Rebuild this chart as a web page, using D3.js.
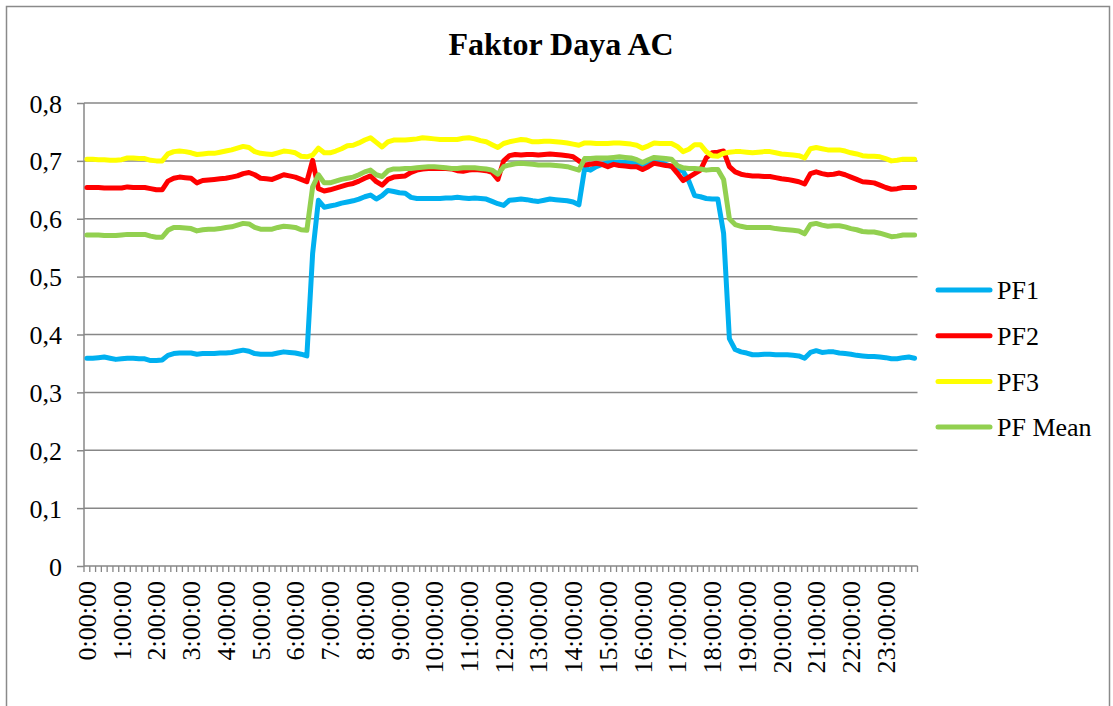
<!DOCTYPE html>
<html>
<head>
<meta charset="utf-8">
<script src="https://cdn.jsdelivr.net/npm/d3@7"></script>
<style>
    body { margin: 0; background: #fff; }
    svg text { font-family: "Liberation Serif", "Times New Roman", serif; fill: #000; }
</style>
</head>
<body>
<div id="chart"></div>
<script>
// 10-minute samples over one day
var times = d3.range(0, 144).map(function (i) {
    var h = Math.floor(i / 6), m = (i % 6) * 10;
    return h + ':' + (m < 10 ? '0' + m : m) + ':00';
});

var yTicks = [0, 0.1, 0.2, 0.3, 0.4, 0.5, 0.6, 0.7, 0.8];

var pf1 = [
    0.359, 0.359, 0.360, 0.361, 0.359, 0.357, 0.358, 0.359, 0.359, 0.358, 0.358, 0.355,
    0.355, 0.356, 0.364, 0.367, 0.368, 0.368, 0.368, 0.366, 0.367, 0.367, 0.367, 0.368,
    0.368, 0.369, 0.371, 0.373, 0.371, 0.367, 0.366, 0.366, 0.366, 0.368, 0.370, 0.369,
    0.368, 0.366, 0.363, 0.540, 0.632, 0.620, 0.622, 0.624, 0.627, 0.629, 0.631, 0.634,
    0.638, 0.641, 0.634, 0.640, 0.649, 0.647, 0.645, 0.644, 0.637, 0.635, 0.635, 0.635,
    0.635, 0.635, 0.636, 0.636, 0.637, 0.636, 0.635, 0.636, 0.635, 0.634, 0.630, 0.626,
    0.623, 0.632, 0.633, 0.634, 0.633, 0.631, 0.630, 0.632, 0.634, 0.633, 0.632, 0.631,
    0.629, 0.624, 0.687, 0.684, 0.690, 0.694, 0.697, 0.697, 0.698, 0.697, 0.696, 0.695,
    0.692, 0.694, 0.698, 0.697, 0.694, 0.690, 0.686, 0.682, 0.665, 0.640, 0.638, 0.635,
    0.634, 0.634, 0.575, 0.393, 0.374, 0.370, 0.368, 0.365, 0.365, 0.366, 0.366, 0.365,
    0.365, 0.365, 0.364, 0.363, 0.359, 0.369, 0.372, 0.369, 0.370, 0.370, 0.368, 0.367,
    0.366, 0.364, 0.363, 0.362, 0.362, 0.361, 0.360, 0.358, 0.358, 0.360, 0.361, 0.359
];

var pf2 = [
    0.654, 0.654, 0.654, 0.653, 0.653, 0.653, 0.653, 0.655, 0.654, 0.654, 0.654, 0.652,
    0.650, 0.650, 0.665, 0.670, 0.672, 0.671, 0.670, 0.662, 0.666, 0.667, 0.668, 0.669,
    0.670, 0.672, 0.674, 0.678, 0.680, 0.676, 0.670, 0.669, 0.668, 0.672, 0.676, 0.674,
    0.672, 0.668, 0.664, 0.701, 0.652, 0.648, 0.650, 0.653, 0.656, 0.659, 0.661, 0.665,
    0.670, 0.674, 0.664, 0.658, 0.668, 0.672, 0.673, 0.674, 0.680, 0.684, 0.686, 0.687,
    0.687, 0.687, 0.687, 0.686, 0.683, 0.682, 0.684, 0.685, 0.684, 0.683, 0.680, 0.668,
    0.700, 0.709, 0.711, 0.710, 0.711, 0.711, 0.710, 0.711, 0.712, 0.711, 0.710, 0.709,
    0.707, 0.700, 0.693, 0.694, 0.696, 0.694, 0.690, 0.694, 0.692, 0.691, 0.690, 0.690,
    0.685, 0.690, 0.696, 0.694, 0.692, 0.691, 0.679, 0.666, 0.672, 0.678, 0.684, 0.705,
    0.714, 0.715, 0.717, 0.690, 0.681, 0.677, 0.675, 0.674, 0.674, 0.673, 0.673, 0.671,
    0.669, 0.668, 0.666, 0.664, 0.660, 0.678, 0.681, 0.678, 0.676, 0.677, 0.679, 0.676,
    0.672, 0.668, 0.664, 0.663, 0.662, 0.658, 0.654, 0.651, 0.652, 0.654, 0.654, 0.654
];

var pf3 = [
    0.703, 0.703, 0.702, 0.702, 0.701, 0.701, 0.702, 0.705, 0.705, 0.704, 0.704, 0.701,
    0.700, 0.700, 0.712, 0.716, 0.717, 0.716, 0.714, 0.711, 0.712, 0.713, 0.713, 0.715,
    0.717, 0.719, 0.722, 0.725, 0.723, 0.716, 0.713, 0.712, 0.711, 0.714, 0.717, 0.716,
    0.714, 0.708, 0.707, 0.710, 0.722, 0.714, 0.714, 0.717, 0.721, 0.726, 0.727, 0.731,
    0.736, 0.740, 0.732, 0.724, 0.733, 0.736, 0.736, 0.736, 0.737, 0.738, 0.740, 0.739,
    0.738, 0.737, 0.737, 0.737, 0.737, 0.739, 0.740, 0.738, 0.735, 0.733, 0.728, 0.723,
    0.730, 0.733, 0.735, 0.737, 0.736, 0.733, 0.733, 0.734, 0.734, 0.733, 0.732, 0.731,
    0.729, 0.727, 0.731, 0.731, 0.730, 0.730, 0.730, 0.731, 0.731, 0.730, 0.729, 0.727,
    0.722, 0.726, 0.731, 0.730, 0.730, 0.730, 0.725, 0.716, 0.720, 0.728, 0.728, 0.716,
    0.709, 0.708, 0.713, 0.715, 0.716, 0.716, 0.715, 0.714, 0.715, 0.716, 0.716, 0.714,
    0.712, 0.711, 0.710, 0.709, 0.705, 0.721, 0.723, 0.721, 0.719, 0.719, 0.719, 0.717,
    0.714, 0.712, 0.709, 0.708, 0.708, 0.707, 0.704, 0.700, 0.701, 0.703, 0.703, 0.703
];

var pfMean = [
    0.572, 0.572, 0.572, 0.571, 0.571, 0.571, 0.572, 0.573, 0.573, 0.573, 0.573, 0.570,
    0.568, 0.568, 0.580, 0.585, 0.585, 0.584, 0.583, 0.579, 0.581, 0.582, 0.582, 0.583,
    0.585, 0.586, 0.589, 0.592, 0.591, 0.585, 0.582, 0.582, 0.582, 0.585, 0.587, 0.586,
    0.585, 0.581, 0.580, 0.655, 0.676, 0.662, 0.662, 0.665, 0.668, 0.670, 0.672, 0.676,
    0.681, 0.684, 0.676, 0.673, 0.683, 0.686, 0.686, 0.687, 0.687, 0.688, 0.689, 0.690,
    0.690, 0.689, 0.688, 0.687, 0.687, 0.688, 0.688, 0.688, 0.687, 0.686, 0.684, 0.677,
    0.690, 0.693, 0.695, 0.696, 0.695, 0.694, 0.693, 0.693, 0.693, 0.692, 0.691, 0.690,
    0.687, 0.684, 0.704, 0.704, 0.705, 0.705, 0.705, 0.706, 0.707, 0.706, 0.705, 0.702,
    0.697, 0.702, 0.706, 0.705, 0.704, 0.703, 0.692, 0.688, 0.687, 0.687, 0.686, 0.684,
    0.685, 0.685, 0.668, 0.600, 0.590, 0.587, 0.585, 0.585, 0.585, 0.585, 0.585, 0.583,
    0.582, 0.581, 0.580, 0.579, 0.574, 0.590, 0.592, 0.589, 0.587, 0.588, 0.588, 0.586,
    0.583, 0.581, 0.578, 0.577, 0.577, 0.575, 0.572, 0.569, 0.570, 0.572, 0.572, 0.572
];

var seriesNames = ['PF1', 'PF2', 'PF3', 'PF Mean'];
var seriesColors = ['#00B0F0', '#FF0000', '#FFFF00', '#92D050'];
var seriesValues = [pf1, pf2, pf3, pfMean];

var width = 1113,
    height = 706,
    plot = { left: 84, right: 917.5, top: 103, bottom: 566 };

var svg = d3.select('#chart').append('svg')
    .attr('width', width)
    .attr('height', height);

svg.append('rect')
    .attr('x', 6.5)
    .attr('y', 6.5)
    .attr('width', 1103)
    .attr('height', 720)
    .attr('fill', '#fff')
    .attr('stroke', '#8a8a8a')
    .attr('stroke-width', 1.5);

var x = d3.scaleBand()
    .domain(times)
    .range([plot.left, plot.right])
    .padding(0);

var y = d3.scaleLinear()
    .domain([0, 0.8])
    .range([plot.bottom, plot.top]);

function xc(d) {
    return x(d) + x.bandwidth() / 2;
}

svg.append('text')
    .attr('x', 561)
    .attr('y', 55)
    .attr('text-anchor', 'middle')
    .style('font-size', '32px')
    .style('font-weight', 'bold')
    .text('Faktor Daya AC');

// gridlines
svg.append('g')
    .selectAll('line')
    .data(yTicks.slice(1))
    .enter()
    .append('line')
    .attr('x1', plot.left)
    .attr('x2', plot.right)
    .attr('y1', function (d) { return y(d); })
    .attr('y2', function (d) { return y(d); })
    .attr('stroke', '#878787')
    .attr('stroke-width', 1.5);

// y axis
var yAxis = svg.append('g')
    .attr('transform', 'translate(' + plot.left + ',0)')
    .call(d3.axisLeft(y)
        .tickValues(yTicks)
        .tickSize(7)
        .tickPadding(15)
        .tickFormat(function (d) { return d === 0 ? '0' : d3.format('.1f')(d).replace('.', ','); }));

yAxis.selectAll('text')
    .style('font-size', '26px')
    .style('font-family', '"Liberation Serif", "Times New Roman", serif')
    .attr('dy', '0.35em');

yAxis.select('.domain').remove();
yAxis.selectAll('.tick line').attr('stroke', '#878787').attr('stroke-width', 1.5);

svg.append('line')
    .attr('x1', plot.left).attr('x2', plot.left)
    .attr('y1', plot.top).attr('y2', plot.bottom)
    .attr('stroke', '#878787').attr('stroke-width', 1.5);

// x axis: a tick on every category edge, a label every hour
var xAxis = svg.append('g')
    .attr('transform', 'translate(0,' + plot.bottom + ')');

xAxis.selectAll('line.tick')
    .data(times.concat(['end']))
    .enter()
    .append('line')
    .classed('tick', true)
    .attr('x1', function (d, i) { return i < times.length ? x(d) : plot.right; })
    .attr('x2', function (d, i) { return i < times.length ? x(d) : plot.right; })
    .attr('y1', 0)
    .attr('y2', 6)
    .attr('stroke', '#878787')
    .attr('stroke-width', 1.3);

xAxis.selectAll('text')
    .data(times.filter(function (d, i) { return i % 6 === 0; }))
    .enter()
    .append('text')
    .attr('transform', function (d) { return 'translate(' + xc(d) + ',15) rotate(-90)'; })
    .attr('text-anchor', 'end')
    .attr('dy', '0.35em')
    .style('font-size', '26px')
    .text(function (d) { return d; });

svg.append('line')
    .attr('x1', plot.left).attr('x2', plot.right)
    .attr('y1', plot.bottom).attr('y2', plot.bottom)
    .attr('stroke', '#878787').attr('stroke-width', 1.5);

// series
var line = d3.line()
    .x(function (d, i) { return xc(times[i]); })
    .y(function (d) { return y(d); });

svg.append('g')
    .selectAll('path')
    .data(seriesValues)
    .enter()
    .append('path')
    .attr('d', line)
    .attr('fill', 'none')
    .attr('stroke', function (d, i) { return seriesColors[i]; })
    .attr('stroke-width', 5)
    .attr('stroke-linejoin', 'round')
    .attr('stroke-linecap', 'round');

// legend
var legend = svg.append('g')
    .selectAll('g')
    .data(seriesNames)
    .enter()
    .append('g')
    .attr('transform', function (d, i) { return 'translate(938,' + (290 + i * 45.7) + ')'; });

legend.append('line')
    .attr('x1', 0)
    .attr('x2', 52)
    .attr('stroke', function (d, i) { return seriesColors[i]; })
    .attr('stroke-width', 5)
    .attr('stroke-linecap', 'round');

legend.append('text')
    .attr('x', 59)
    .attr('dy', '0.35em')
    .style('font-size', '26px')
    .text(function (d) { return d; });
</script>
</body>
</html>
